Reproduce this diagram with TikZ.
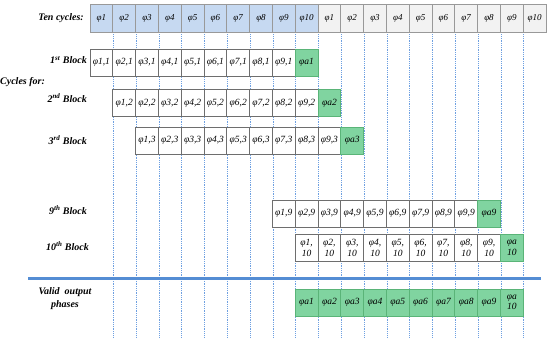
\documentclass[tikz,border=0pt]{standalone}
\usepackage{fontspec}
\setmainfont{Liberation Serif}
\usetikzlibrary{backgrounds}
\definecolor{topblue}{RGB}{198,217,241}
\definecolor{topgray}{RGB}{242,242,242}
\definecolor{cellgreen}{RGB}{128,212,160}
\definecolor{greenline}{RGB}{90,180,120}
\definecolor{dotblue}{RGB}{110,160,225}
\definecolor{sepblue}{RGB}{84,141,212}
\definecolor{cellline}{RGB}{110,110,110}
\begin{document}
\begin{tikzpicture}[x=1pt,y=-1pt,
  cell/.style={draw=cellline, line width=0.7pt, fill=white, minimum width=22.8pt,
    minimum height=27pt, inner sep=0pt, align=center, anchor=center,
    font=\itshape\fontsize{9.5}{10.5}\selectfont},
  topcell/.style={cell, draw=gray!80, minimum height=27.5pt, font=\itshape\fontsize{9}{10}\selectfont},
  greencell/.style={cell, draw=greenline, fill=cellgreen},
  lab/.style={font=\bfseries\itshape\fontsize{10}{11}\selectfont, inner sep=0pt, align=center},
  grid/.style={dotblue, line width=0.5pt, dash pattern=on 0.8pt off 1pt},
  sep/.style={sepblue, line width=2.4pt}]
\useasboundingbox (0,0) rectangle (550,341);
\def\xo{90}\def\W{22.8}
% top row
\foreach \i in {1,...,20}{
  \pgfmathtruncatemacro{\j}{mod(\i-1,10)+1}
  \ifnum\i>10 \def\fc{topgray}\else\def\fc{topblue}\fi
  \node[topcell, fill=\fc] (t\i) at ({\xo+(\i-0.5)*\W},18.25) {φ\j};
}
% blocks 1,2,3,9
\foreach \b/\y in {1/62.5,2/103,3/140.5,9/213.5}{
  \foreach \k in {1,...,9}{
    \pgfmathsetmacro{\cx}{\xo+(\b+\k-1.5)*\W}
    \node[cell] (b\b-\k) at (\cx,\y) {φ\k,\b};
  }
  \pgfmathsetmacro{\cx}{\xo+(\b+8.5)*\W}
  \node[greencell] (a\b) at (\cx,\y) {φa\b};
}
% block 10
\foreach \k in {1,...,9}{
  \pgfmathsetmacro{\cx}{\xo+(\k+8.5)*\W}
  \node[cell, minimum height=27.5pt] (b10-\k) at (\cx,248) {φ\k,\\10};
}
\node[greencell, minimum height=27.5pt] (a10) at ({\xo+18.5*\W},248) {φa\\10};
% valid output phases
\foreach \k in {1,...,9}{
  \pgfmathsetmacro{\cx}{\xo+(\k+8.5)*\W}
  \node[greencell] (v\k) at (\cx,302.5) {φa\k};
}
\node[greencell] (v10) at ({\xo+18.5*\W},302.5) {φa\\10};
% labels
\node[lab, anchor=east] (lten) at (84,18.25) {Ten cycles:};
\node[lab, anchor=east] (l1) at (87,60) {1\textsuperscript{st} Block};
\node[lab, anchor=west] (lcyc) at (0,82) {Cycles for:};
\node[lab, anchor=east] (l2) at (87,98) {2\textsuperscript{nd} Block};
\node[lab, anchor=east] (l3) at (87,140) {3\textsuperscript{rd} Block};
\node[lab, anchor=east] (l9) at (87,210) {9\textsuperscript{th} Block};
\node[lab, anchor=east] (l10) at (89,246) {10\textsuperscript{th} Block};
\node[lab, font=\bfseries\itshape\fontsize{10}{13}\selectfont] (lvalid) at (65,299) {Valid~~output\\phases};
% separator
\coordinate (sepL) at (28,278.5);
\coordinate (sepR) at (541,278.5);
\draw[sep] (sepL) -- (sepR);
% dotted grid lines
\coordinate (gridbottom) at (0,337);
\begin{scope}[on background layer]
  \foreach \i in {1,...,19}{
    \draw[grid] (t\i.south east) -- (t\i.south east |- gridbottom);
  }
\end{scope}
\end{tikzpicture}
\end{document}
